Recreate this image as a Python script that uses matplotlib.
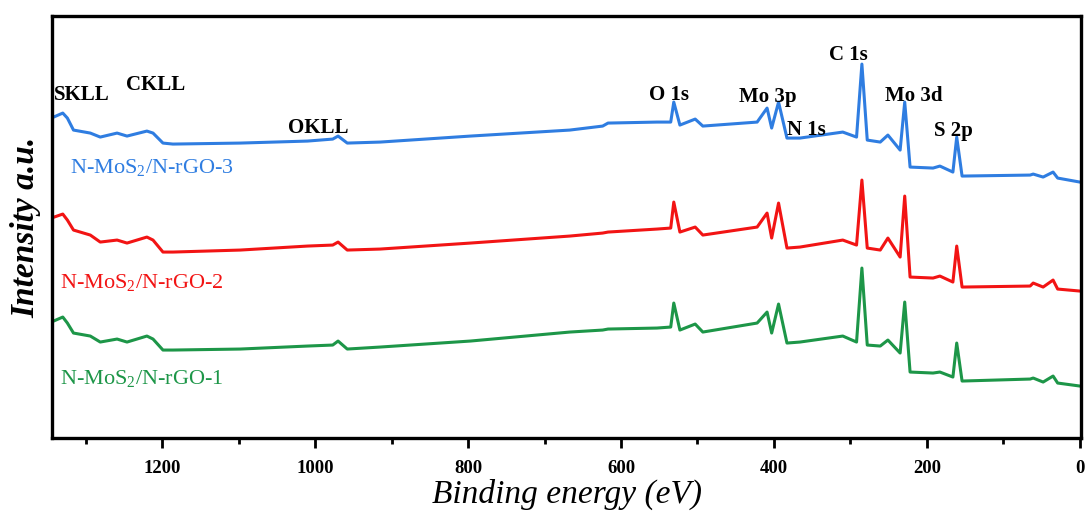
import matplotlib
matplotlib.use("Agg")
import matplotlib.pyplot as plt
from matplotlib.ticker import MultipleLocator

plt.rcParams['font.family'] = ['Liberation Serif', 'DejaVu Serif']
plt.rcParams['mathtext.fontset'] = 'custom'
plt.rcParams['mathtext.rm'] = 'Liberation Serif'
plt.rcParams['mathtext.it'] = 'Liberation Serif:italic'
plt.rcParams['mathtext.bf'] = 'Liberation Serif:bold'

# Binding energy (eV) of the traced vertices, shared by all three spectra
energy = [1345, 1330, 1324, 1316, 1294, 1281, 1259, 1246, 1220, 1212, 1199, 1186,
          1098, 1010, 977, 970, 958, 915, 797, 667, 624, 617, 553, 535, 531, 523,
          503, 493, 422, 409, 403, 394, 383, 366, 310, 292, 285, 278, 261, 251,
          235, 229, 222, 192, 183, 166, 161, 154, 65, 61, 48, 35, 29, 0]

# Intensity (a.u., offset stacked)
int_rgo3 = [320, 325, 320, 308, 305, 301, 305, 302, 307, 305, 295, 294,
            295, 297, 299, 302, 295, 296, 302, 308, 312, 315, 316, 316, 336, 313,
            319, 312, 316, 330, 310, 336, 300, 300, 306, 301, 374, 298, 296, 303,
            288, 336, 271, 270, 272, 266, 301, 262, 263, 264, 261, 266, 260, 256]
int_rgo2 = [220, 224, 218, 208, 203, 196, 198, 195, 201, 198, 186, 186,
            188, 192, 193, 196, 188, 189, 195, 202, 205, 206, 209, 210, 236, 206,
            211, 203, 211, 225, 200, 235, 190, 191, 198, 193, 258, 190, 188, 200,
            181, 242, 161, 160, 162, 156, 192, 151, 152, 155, 151, 158, 149, 147]
int_rgo1 = [116, 121, 115, 105, 102, 96, 99, 96, 102, 99, 88, 88,
            89, 92, 93, 97, 89, 91, 97, 106, 108, 109, 110, 111, 135, 108,
            114, 106, 115, 126, 105, 134, 95, 96, 102, 96, 170, 93, 92, 98,
            85, 136, 66, 65, 66, 61, 95, 57, 59, 60, 56, 62, 55, 52]

series_names = ["N-MoS$_2$/N-rGO-3", "N-MoS$_2$/N-rGO-2", "N-MoS$_2$/N-rGO-1"]
series_colors = ["#2f7de1", "#f21414", "#1d9648"]

peak_labels = ["SKLL", "CKLL", "OKLL", "O 1s", "Mo 3p", "N 1s", "C 1s", "Mo 3d", "S 2p"]
xticks = [1200, 1000, 800, 600, 400, 200, 0]

fig = plt.figure(figsize=(10.85, 5.19), dpi=100)
ax = fig.add_axes([0.048, 0.156, 0.9483, 0.813])

for y, c in zip([int_rgo3, int_rgo2, int_rgo1], series_colors):
    ax.plot(energy, y, color=c, lw=2.2, solid_joinstyle='round')

ax.set_xlim(1344, -1.5)
ax.set_ylim(0, 422)
ax.set_yticks([])
ax.set_xticks(xticks)
ax.xaxis.set_minor_locator(MultipleLocator(100))
ax.tick_params(axis='x', which='major', direction='out', length=7, width=2,
               labelsize=13.5, pad=9)
ax.tick_params(axis='x', which='minor', direction='out', length=4, width=2)
for lab in ax.get_xticklabels():
    lab.set_fontweight('bold')
for s in ax.spines.values():
    s.set_linewidth(2.4)

# peak annotations (positions in data coords)
label_pos = [(1305, 343), (1209, 353), (996, 310), (537, 343), (408, 341),
             (357, 308), (303, 383), (217, 342), (165, 307)]
for t, (xx, yy) in zip(peak_labels, label_pos):
    ax.text(xx, yy, t, ha='center', va='center', fontsize=15, fontweight='bold')

name_pos = [(1320, 271), (1333, 156), (1333, 60)]
for t, c, (xx, yy) in zip(series_names, series_colors, name_pos):
    ax.text(xx, yy, t, ha='left', va='center', fontsize=16, color=c)

ax.set_xlabel("Binding energy (eV)", fontsize=24, fontstyle='italic', labelpad=1)
ax.set_ylabel("Intensity a.u.", fontsize=24, fontstyle='italic', fontweight='bold',
              labelpad=8)

fig.savefig("out.png", dpi=100)
